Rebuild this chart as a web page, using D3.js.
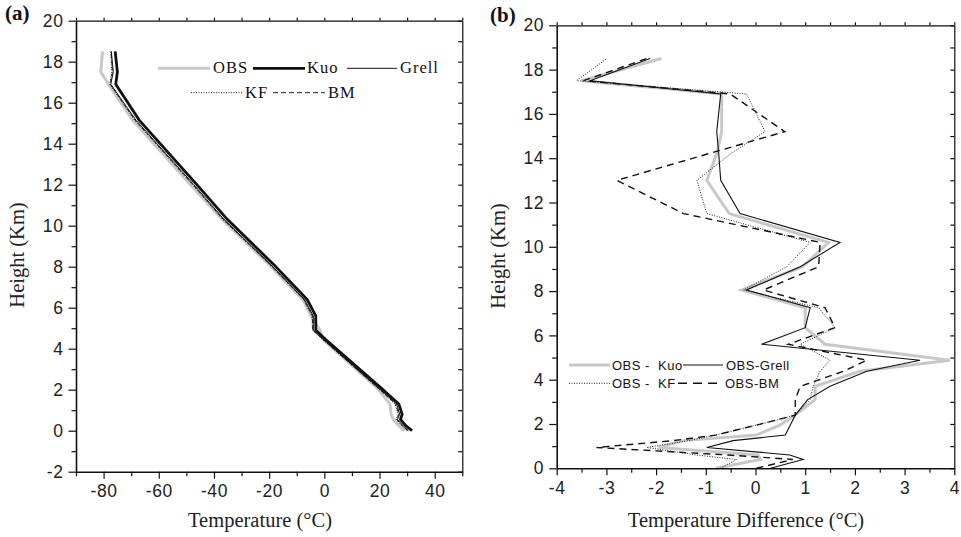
<!DOCTYPE html>
<html>
<head>
<meta charset="utf-8">
<script src="https://cdnjs.cloudflare.com/ajax/libs/d3/7.8.5/d3.min.js"></script>
<style>
  body { margin: 0; background: #fff; }
  svg { display: block; }
  .tick text { font-family: "Liberation Sans", Arial, sans-serif; font-size: 17.5px; fill: #222; letter-spacing: 0.6px; }
  .domain { stroke: #111; stroke-width: 1.6px; }
  .tick line { stroke: #111; stroke-width: 1.2px; }
  .title { font-family: "Liberation Serif", "Times New Roman", serif; font-size: 20.5px; fill: #222; }
  .plabel { font-family: "Liberation Serif", serif; font-size: 21px; font-weight: bold; fill: #111; }
  .legA { font-family: "Liberation Serif", serif; font-size: 16.5px; letter-spacing: 1px; fill: #111; }
  .legB { font-family: "Liberation Sans", sans-serif; font-size: 13px; letter-spacing: 0.5px; fill: #111; white-space: pre; }
  .series { fill: none; stroke-linejoin: miter; }
</style>
</head>
<body>
<script>

// ---- panel (a): temperature profiles (deg C) at heights (km)
var heightsA = [0, 0.25, 0.55, 0.8, 1.3, 2.1, 4.45, 4.9, 5.6, 6.4, 8.1, 10.3, 12.0, 15.15, 16.9, 17.5, 18.5];
var obsA   = [29.0, 27.0, 25.0, 24.2, 23.8, 19.0, -0.5, -1.6, -4.8, -7.8, -20.0, -37.0, -48.5, -69.5, -78.2, -81.0, -80.4];
var kuoA   = [31.8, 29.5, 27.6, 28.2, 27.0, 20.4, 0.5, -3.1, -3.1, -6.2, -18.3, -35.1, -46.2, -67.1, -75.6, -75.0, -75.8];
var grellA = [30.5, 28.5, 26.5, 27.3, 26.2, 19.5, -0.3, -4.0, -4.0, -7.2, -19.4, -36.3, -47.3, -68.3, -77.4, -76.5, -77.2];
var kfA    = [30.0, 28.0, 26.0, 26.8, 25.6, 19.2, -0.6, -4.3, -4.5, -7.6, -19.8, -36.8, -47.8, -68.8, -77.8, -77.0, -77.5];
var bmA    = [30.2, 28.2, 26.2, 27.0, 25.8, 19.3, -0.5, -4.2, -4.3, -7.4, -19.6, -36.6, -47.6, -68.6, -77.6, -76.8, -77.3];

// ---- panel (b): OBS minus model (deg C) at heights (km)
var heightsB = [0, 0.4, 0.6, 0.94, 1.25, 1.5, 1.95, 2.4, 3.1, 3.7, 4.38, 4.88, 5.6, 6.35, 7.25, 8.05, 9.1, 10.2, 11.5, 13.0, 14.2, 15.2, 16.9, 17.5, 18.5];
var obsKuo   = [-0.8, 0.1, 0.05, -1.95, -1.45, 0.02, 0.49, 0.8, 1.2, 1.2, 2.1, 3.91, 1.4, 1.0, 1.0, -0.28, 0.95, 1.47, -0.53, -0.98, -0.78, -0.68, -0.68, -3.5, -1.89];
var obsGrell = [0.3, 0.96, 0.69, -0.98, -0.45, 0.6, 0.7, 0.8, 1.05, 1.5, 2.24, 3.31, 0.12, 1.0, 1.1, -0.18, 0.9, 1.7, -0.31, -0.7, -0.74, -0.78, -0.7, -3.33, -2.12];
var obsKF    = [-0.71, -0.38, -1.18, -2.19, -1.34, -0.81, 0.02, 0.8, 1.1, 1.16, 1.3, 1.5, 0.9, 1.6, 1.27, -0.24, 0.63, 1.1, -0.98, -1.18, -0.5, 0.19, -0.18, -3.6, -2.99];
var obsBM    = [0.02, 0.75, -0.55, -3.2, -1.65, -0.8, 0.02, 0.8, 0.8, 0.9, 1.77, 2.24, 0.66, 1.6, 1.4, 0.16, 1.27, 1.3, -1.45, -2.79, -0.95, 0.59, -0.51, -3.46, -2.19];

// tick values
var tempTicks = [-80, -60, -40, -20, 0, 20, 40];
var tempMinor = [-90, -70, -50, -30, -10, 10, 30, 50];
var heightTicksA = [-2, 0, 2, 4, 6, 8, 10, 12, 14, 16, 18, 20];
var heightMinorA = [-1, 1, 3, 5, 7, 9, 11, 13, 15, 17, 19];
var diffTicks = [-4, -3, -2, -1, 0, 1, 2, 3, 4];
var diffMinor = [-3.5, -2.5, -1.5, -0.5, 0.5, 1.5, 2.5, 3.5];
var heightTicksB = [0, 2, 4, 6, 8, 10, 12, 14, 16, 18, 20];
var heightMinorB = [1, 3, 5, 7, 9, 11, 13, 15, 17, 19];

var svg = d3.select("body").append("svg")
    .attr("width", 961)
    .attr("height", 537);

function fmt(d) { return String(d); }

// draws the four sides of a panel frame with major/minor ticks
function drawFrame(x, y, xMaj, xMin, yMaj, yMin) {
  var x0 = x.range()[0], x1 = x.range()[1], y0 = y.range()[0], y1 = y.range()[1];
  var all = xMaj.concat(xMin), allY = yMaj.concat(yMin);

  // top + right (thin, no labels)
  svg.append("g").attr("transform", "translate(0," + y1 + ")")
    .call(d3.axisTop(x).tickValues(all).tickSize(3).tickSizeOuter(0).tickFormat(""))
    .select(".domain").style("stroke-width", "1.2px");
  svg.append("g").attr("transform", "translate(" + x1 + ",0)")
    .call(d3.axisLeft(y).tickValues(allY).tickSize(4).tickSizeOuter(0).tickFormat(""))
    .select(".domain").style("stroke-width", "1.2px");

  // left
  svg.append("g").attr("transform", "translate(" + x0 + ",0)")
    .call(d3.axisLeft(y).tickValues(yMin).tickSize(4.5).tickSizeOuter(0).tickFormat(""))
    .select(".domain").remove();
  svg.append("g").attr("transform", "translate(" + x0 + ",0)")
    .call(d3.axisLeft(y).tickValues(yMaj).tickSize(7.5).tickSizeOuter(0).tickPadding(5).tickFormat(fmt));

  // bottom
  svg.append("g").attr("transform", "translate(0," + y0 + ")")
    .call(d3.axisBottom(x).tickValues(xMin).tickSize(4.5).tickSizeOuter(0).tickFormat(""))
    .select(".domain").remove();
  svg.append("g").attr("transform", "translate(0," + y0 + ")")
    .call(d3.axisBottom(x).tickValues(xMaj).tickSize(7).tickSizeOuter(0).tickPadding(6).tickFormat(fmt));
}

function drawSeries(x, y, vals, hts, style) {
  var line = d3.line().x(function(d) { return x(d[0]); }).y(function(d) { return y(d[1]); });
  svg.append("path")
    .datum(d3.zip(vals, hts))
    .attr("class", "series")
    .attr("d", line)
    .attr("stroke", style.color)
    .attr("stroke-width", style.width)
    .attr("stroke-dasharray", style.dash || null);
}

function legendItem(cls, x1, x2, y, label, style, tx) {
  svg.append("line")
    .attr("x1", x1).attr("x2", x2).attr("y1", y).attr("y2", y)
    .attr("stroke", style.color)
    .attr("stroke-width", style.width)
    .attr("stroke-dasharray", style.dash || null);
  svg.append("text")
    .attr("class", cls)
    .attr("x", tx).attr("y", y + 5)
    .text(label);
}

// ================= panel (a)
var xa = d3.scaleLinear().domain([-90, 50]).range([76, 462.3]);
var ya = d3.scaleLinear().domain([-2, 20]).range([471.7, 20.7]);

var stA = {
  obs:   { color: "#c8c8c8", width: 3 },
  kuo:   { color: "#111", width: 2.8 },
  grell: { color: "#111", width: 1 },
  kf:    { color: "#222", width: 1, dash: "1,1.5" },
  bm:    { color: "#222", width: 1, dash: "4,2" }
};

drawSeries(xa, ya, obsA, heightsA, stA.obs);
drawSeries(xa, ya, kfA, heightsA, stA.kf);
drawSeries(xa, ya, bmA, heightsA, stA.bm);
drawSeries(xa, ya, grellA, heightsA, stA.grell);
drawSeries(xa, ya, kuoA, heightsA, stA.kuo);

drawFrame(xa, ya, tempTicks, tempMinor, heightTicksA, heightMinorA);

legendItem("legA", 158, 210, 68.3, "OBS", stA.obs, 213);
legendItem("legA", 253, 305, 68.3, "Kuo", stA.kuo, 307);
legendItem("legA", 347, 397, 68.3, "Grell", stA.grell, 400);
legendItem("legA", 191, 243, 92.7, "KF", stA.kf, 245);
legendItem("legA", 273, 325, 92.7, "BM", { color: "#222", width: 1, dash: "5,3" }, 328);

svg.append("text").attr("class", "plabel").attr("x", 5).attr("y", 20).text("(a)");
svg.append("text").attr("class", "title").attr("x", 260).attr("y", 527)
  .attr("text-anchor", "middle").text("Temperature (°C)");
svg.append("text").attr("class", "title")
  .attr("transform", "translate(24,255) rotate(-90)")
  .attr("text-anchor", "middle").text("Height (Km)");

// ================= panel (b)
var xb = d3.scaleLinear().domain([-4, 4]).range([556.7, 954.3]);
var yb = d3.scaleLinear().domain([0, 20]).range([468.3, 25.3]);

var stB = {
  kuo:   { color: "#c8c8c8", width: 3 },
  grell: { color: "#111", width: 1.1 },
  kf:    { color: "#222", width: 1, dash: "1,1.5" },
  bm:    { color: "#111", width: 1.4, dash: "7,5" }
};

drawSeries(xb, yb, obsKuo, heightsB, stB.kuo);
drawSeries(xb, yb, obsKF, heightsB, stB.kf);
drawSeries(xb, yb, obsBM, heightsB, stB.bm);
drawSeries(xb, yb, obsGrell, heightsB, stB.grell);

drawFrame(xb, yb, diffTicks, diffMinor, heightTicksB, heightMinorB);

legendItem("legB", 569, 610, 365, "OBS -  Kuo", stB.kuo, 612);
legendItem("legB", 683, 723, 365, "OBS-Grell", stB.grell, 726);
legendItem("legB", 569, 610, 383.3, "OBS -  KF", stB.kf, 612);
legendItem("legB", 678, 717, 383.3, "OBS-BM", { color: "#111", width: 1.4, dash: "9,6" }, 725);

svg.append("text").attr("class", "plabel").attr("x", 490).attr("y", 22).text("(b)");
svg.append("text").attr("class", "title").attr("x", 746).attr("y", 527)
  .attr("text-anchor", "middle").text("Temperature Difference (°C)");
svg.append("text").attr("class", "title")
  .attr("transform", "translate(505,256) rotate(-90)")
  .attr("text-anchor", "middle").text("Height (Km)");

</script>
</body>
</html>
